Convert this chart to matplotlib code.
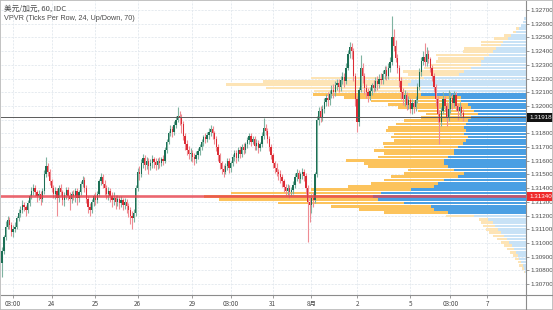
import matplotlib
matplotlib.use("Agg")
import matplotlib.pyplot as plt
import numpy as np
from matplotlib.lines import Line2D
from matplotlib.patches import Rectangle
from matplotlib.ticker import FuncFormatter

# ---------------- data ----------------
symbol_title = "美元/加元, 60, IDC"
indicator_title = "VPVR (Ticks Per Row, 24, Up/Down, 70)"

base_price = 1.3
pip = 0.0001
first_open_pips = 85
close_pips = [
    94, 104, 112, 117, 113, 108, 110, 112, 118, 122,
    124, 128, 126, 124, 129, 134, 138, 140, 137, 134,
    136, 132, 138, 150, 156, 152, 145, 140, 136, 138,
    133, 140, 137, 131, 135, 139, 134, 132, 136, 134,
    138, 133, 137, 143, 146, 140, 132, 126, 124, 130,
    134, 131, 136, 145, 148, 143, 140, 136, 138, 134,
    131, 133, 130, 132, 129, 131, 128, 130, 127, 124,
    120, 118, 122, 140, 152, 150, 158, 162, 157, 160,
    156, 158, 161, 159, 157, 160, 158, 161, 160, 168,
    174, 180, 183, 181, 186, 190, 193, 191, 187, 178,
    172, 168, 165, 166, 163, 161, 164, 167, 170, 174,
    177, 176, 179, 181, 183, 180, 176, 170, 164, 158,
    154, 152, 156, 160, 155, 158, 163, 166, 162, 168,
    165, 170, 168, 172, 175, 178, 174, 176, 171, 173,
    169, 172, 178, 184, 182, 176, 170, 164, 158, 155,
    152, 150, 148, 145, 141, 138, 140, 137, 139, 142,
    148, 151, 147, 150, 152, 149, 140, 130, 128, 133,
    131, 150, 190, 196, 192, 198, 203, 206, 204, 209,
    212, 210, 215, 217, 214, 219, 221, 218, 228, 238,
    243, 240, 222, 205, 188, 212, 228, 222, 213, 210,
    207, 211, 215, 213, 218, 216, 220, 219, 223, 226,
    222, 228, 232, 250, 244, 235, 228, 218, 210, 205,
    208, 201, 204, 198, 202, 199, 204, 214, 225, 233,
    236, 232, 238, 234, 228, 222, 214, 205, 194, 188,
    196, 205, 200, 192, 198, 206, 202, 208, 200, 196,
    199, 195, 191.8]
high_pips = [
    97, 106, 116, 120, 119, 115, 113, 115, 120, 125,
    127, 131, 130, 128, 131, 136, 141, 143, 142, 139,
    139, 138, 140, 153, 163, 158, 154, 147, 142, 141,
    140, 142, 143, 139, 137, 141, 141, 137, 138, 139,
    140, 140, 139, 145, 149, 148, 142, 134, 129, 132,
    136, 137, 138, 147, 151, 150, 146, 142, 141, 140,
    137, 137, 135, 135, 134, 134, 133, 133, 132, 129,
    126, 123, 125, 142, 155, 156, 161, 165, 164, 163,
    162, 161, 164, 163, 162, 162, 163, 163, 164, 170,
    176, 182, 186, 185, 189, 193, 199, 196, 194, 189,
    180, 175, 171, 169, 168, 166, 167, 169, 172, 176,
    179, 180, 181, 184, 186, 185, 182, 178, 172, 166,
    160, 157, 158, 162, 162, 160, 165, 168, 168, 170,
    171, 172, 173, 174, 177, 180, 180, 178, 178, 176,
    175, 174, 181, 191, 187, 184, 178, 172, 166, 160,
    158, 154, 153, 150, 147, 143, 143, 142, 141, 145,
    151, 154, 153, 152, 155, 154, 151, 142, 134, 136,
    137, 152, 193, 199, 200, 201, 206, 209, 210, 212,
    215, 216, 218, 220, 220, 222, 225, 224, 231, 241,
    247, 246, 242, 224, 207, 214, 237, 231, 224, 216,
    213, 214, 217, 219, 221, 222, 223, 224, 226, 229,
    229, 231, 236, 266, 256, 248, 238, 230, 221, 213,
    212, 210, 207, 206, 205, 204, 207, 217, 228, 236,
    240, 246, 243, 241, 236, 230, 224, 216, 207, 197,
    199, 210, 207, 203, 212, 210, 209, 211, 210, 202,
    203, 201, 198]
low_pips = [
    75, 92, 102, 110, 110, 105, 104, 108, 110, 116,
    119, 122, 123, 120, 122, 127, 132, 135, 134, 130,
    131, 128, 130, 136, 148, 149, 142, 137, 133, 132,
    120, 130, 134, 128, 127, 132, 131, 124, 129, 131,
    130, 128, 130, 135, 141, 137, 129, 122, 120, 122,
    127, 128, 129, 134, 142, 140, 135, 132, 131, 130,
    126, 128, 125, 127, 125, 126, 124, 125, 122, 119,
    114, 110, 115, 120, 138, 146, 148, 155, 153, 154,
    150, 153, 155, 155, 153, 154, 155, 156, 157, 158,
    166, 172, 178, 177, 179, 184, 188, 186, 180, 175,
    168, 164, 161, 160, 159, 157, 158, 161, 164, 168,
    171, 173, 174, 176, 178, 176, 172, 167, 160, 154,
    150, 148, 150, 153, 151, 152, 156, 160, 158, 160,
    162, 163, 165, 166, 169, 172, 171, 172, 168, 168,
    166, 167, 170, 176, 179, 173, 167, 161, 155, 151,
    149, 146, 144, 141, 137, 134, 135, 133, 134, 136,
    140, 145, 144, 144, 147, 145, 136, 101, 115, 122,
    126, 129, 148, 186, 188, 189, 195, 200, 200, 201,
    206, 206, 207, 212, 210, 211, 216, 214, 216, 226,
    235, 234, 218, 200, 181, 185, 210, 217, 209, 206,
    203, 204, 208, 210, 211, 212, 213, 216, 216, 220,
    219, 220, 225, 230, 240, 232, 224, 214, 205, 201,
    200, 197, 198, 195, 194, 195, 196, 202, 212, 222,
    230, 229, 229, 231, 225, 218, 210, 200, 188, 172,
    185, 194, 196, 185, 189, 195, 198, 199, 196, 190,
    193, 191, 189]

time_tick_bars = [6, 27, 51, 74, 104, 125, 148, 169, 194, 223, 245, 265]
time_tick_labels = ["03:00", "24", "25", "26", "29", "03:00", "31", "8月",
                    "2", "5", "03:00", "7"]
price_ticks = [1.307, 1.308, 1.309, 1.310, 1.311, 1.312, 1.313, 1.314, 1.315,
               1.316, 1.317, 1.318, 1.319, 1.320, 1.321, 1.322, 1.323, 1.324,
               1.325, 1.326, 1.327]
hidden_price_ticks = [1.319]   # covered by the last-price label

# volume profile (rows top -> bottom, offsets in rows from the POC row)
row_size = 0.00024
poc_price = 1.31340
row_offsets = list(range(54, -24, -1))
vol_up = [
    5, 10, 15, 20, 30, 45, 55, 70, 75, 90,
    100, 110, 125, 135, 135, 165, 185, 200, 305, 345,
    355, 315, 315, 315, 195, 195, 175, 165, 155, 145,
    165, 175, 180, 185, 180, 185, 175, 180, 190, 205,
    215, 215, 235, 245, 245, 235, 215, 185, 205, 245,
    265, 275, 345, 435, 460, 445, 365, 285, 275, 235,
    155, 115, 100, 93, 85, 75, 65, 57, 50, 43,
    37, 30, 25, 20, 15, 10, 5, 2]
vol_down = [
    0, 0, 0, 10, 10, 20, 40, 65, 60, 95,
    90, 160, 140, 135, 150, 140, 185, 155, 340, 445,
    545, 465, 320, 325, 350, 270, 240, 220, 170, 155,
    150, 190, 210, 230, 240, 210, 230, 215, 240, 220,
    240, 210, 210, 295, 240, 240, 140, 180, 200, 180,
    200, 260, 300, 450, 505, 475, 380, 300, 225, 190,
    85, 25, 35, 37, 35, 35, 35, 30, 25, 22,
    20, 17, 15, 12, 10, 10, 8, 3]
value_area_low = 1.31215
value_area_high = 1.32100
last_price = 1.31918

# ---------------- style ----------------
W, H = 553, 310
plot_left, plot_right, plot_top, plot_bottom = 1, 526, 1, 295
small = ["Liberation Sans", "DejaVu Sans"]
cjk = ["Noto Sans CJK SC", "DejaVu Sans"]
grid_color = "#e2e8ee"
text_color = "#4a4a4a"
axis_color = "#8c8c8c"
col_up_body, col_dn_body = "#1c6f55", "#dc2c35"
col_up_wick, col_dn_wick = "#7fb3a1", "#ee8c93"
col_va_up, col_va_dn = "#4a9fe3", "#fcc35c"
col_out_up, col_out_dn = "#c8e2f6", "#fde4b6"

fig = plt.figure(figsize=(W / 100, H / 100), dpi=100)
ax = fig.add_axes([plot_left / W, (H - plot_bottom) / H,
                   (plot_right - plot_left) / W, (plot_bottom - plot_top) / H])
ax.set_xlim(-0.6, 286.3)
ax.set_ylim(1.30620, 1.32766)

# grid
ax.set_yticks(price_ticks)
ax.set_xticks(time_tick_bars)
ax.set_xticklabels(time_tick_labels)
ax.grid(True, color=grid_color, linestyle=(0, (2.5, 1.5)), linewidth=0.6, zorder=0)
ax.set_axisbelow(True)

# volume profile
centers = poc_price + np.array(row_offsets) * row_size
up = np.array(vol_up, float)
dn = np.array(vol_down, float)
xl, xr = ax.get_xlim()
scale = 0.613 * (xr - xl) / (up + dn).max()
in_va = (centers >= value_area_low) & (centers <= value_area_high)
ax.barh(centers, up * scale, left=xr - up * scale, height=row_size * 0.8,
        color=np.where(in_va, col_va_up, col_out_up), linewidth=0, zorder=1)
ax.barh(centers, dn * scale, left=xr - (up + dn) * scale, height=row_size * 0.8,
        color=np.where(in_va, col_va_dn, col_out_dn), linewidth=0, zorder=1)

# candles
c = base_price + np.array(close_pips) * pip
o = np.concatenate([[base_price + first_open_pips * pip], c[:-1]])
hi = base_price + np.array(high_pips) * pip
lo = base_price + np.array(low_pips) * pip
idx = np.arange(len(c))
rising = c >= o
ax.vlines(idx, lo, hi, colors=np.where(rising, col_up_wick, col_dn_wick),
          linewidth=0.8, zorder=3)
ax.bar(idx, np.maximum(np.abs(c - o), 0.25 * pip), bottom=np.minimum(o, c),
       width=0.7, color=np.where(rising, col_up_body, col_dn_body),
       linewidth=0, zorder=4)

# POC and last price lines
ax.axhline(poc_price, color="#e6404b", lw=1.9, alpha=0.8, zorder=5)
ax.axhline(last_price, color="#5a5a5a", lw=0.7, zorder=5)

# axes styling
for s in ("top", "left"):
    ax.spines[s].set_visible(False)
for s in ("right", "bottom"):
    ax.spines[s].set_color(axis_color)
    ax.spines[s].set_linewidth(0.8)
ax.yaxis.tick_right()
ax.yaxis.set_major_formatter(FuncFormatter(
    lambda v, p: "" if any(abs(v - h) < 1e-7 for h in hidden_price_ticks) else f"{v:.5f}"))
ax.tick_params(axis="y", labelsize=4.5, length=2, pad=1.2, colors=axis_color,
               labelcolor=text_color, width=0.6)
ax.tick_params(axis="x", labelsize=4.6, length=2, pad=1.5, colors=axis_color,
               labelcolor=text_color, width=0.6)
for lab in ax.get_yticklabels():
    lab.set_family(small)
for lab in ax.get_xticklabels():
    lab.set_family(cjk)

# price labels on axis
for price, bg in ((last_price, "#131313"), (poc_price, "#ef2b2b")):
    ax.annotate(f"{price:.5f}", xy=(1.0, price), xycoords=("axes fraction", "data"),
                xytext=(2.4, 0), textcoords="offset points", va="center", ha="left",
                fontsize=4.5, family=small, color="white", zorder=10,
                annotation_clip=False,
                bbox=dict(boxstyle="square,pad=0.3", fc=bg, ec="none"))

# extended separators and frame
fig.add_artist(Line2D([plot_right / W, 1], [(H - plot_bottom) / H] * 2,
                      color=axis_color, lw=0.8))
fig.add_artist(Line2D([plot_right / W] * 2, [0, (H - plot_bottom) / H],
                      color=axis_color, lw=0.8))
fig.add_artist(Rectangle((0, 0), 1, 1, transform=fig.transFigure, fill=False,
                         ec="#b8b8b8", lw=1.2))

# titles
fig.text(4 / W, 1 - 9 / H, symbol_title, fontsize=5.5, family=cjk,
         color=text_color, va="center", ha="left")
fig.text(4 / W, 1 - 18 / H, indicator_title, fontsize=5.2, family=small,
         color=text_color, va="center", ha="left")

fig.savefig("out.png", dpi=100)
